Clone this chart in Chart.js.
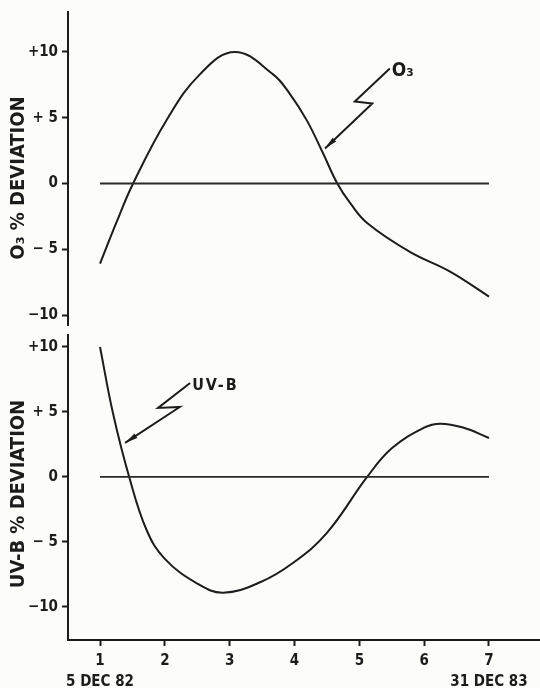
<!DOCTYPE html>
<html>
<head>
<meta charset="utf-8">
<script src="https://cdn.jsdelivr.net/npm/chart.js@4"></script>
<style>
  html, body { margin: 0; padding: 0; background: #fcfcf9; }
  #wrap { position: relative; width: 540px; height: 688px; }
  .panel { position: absolute; left: 0; width: 540px; }
</style>
</head>
<body>
<div id="wrap">
  <div class="panel" style="top:0;height:330px"><canvas id="o3Chart"></canvas></div>
  <div class="panel" style="top:330px;height:358px"><canvas id="uvbChart"></canvas></div>
</div>
<script>
// values (x = year index 1..7, y = % deviation)
const o3Days = [1.0, 1.25, 1.51, 2.03, 2.54, 3.08, 3.67, 3.93, 4.19, 4.44, 4.66, 4.86, 5.12, 5.78, 6.4, 7.0];
const o3Dev  = [-6.1, -3.0, 0, 4.85, 8.3, 10.0, 8.3, 6.8, 4.8, 2.3, 0, -1.5, -3.0, -5.2, -6.7, -8.6];

const uvbDays = [1.0, 1.2, 1.45, 1.72, 2.0, 2.5, 2.9, 3.47, 3.98, 4.5, 5.12, 5.5, 6.0, 6.25, 6.6, 7.0];
const uvbDev  = [10.0, 4.9, 0, -4.1, -6.3, -8.2, -8.9, -8.1, -6.6, -4.3, 0, 2.2, 3.8, 4.1, 3.8, 3.0];

const zeroDays = [1, 7];
const zeroDev = [0, 0];

const yTickValues = [-10, -5, 0, 5, 10];
const yTickLabels = ['\u221210', '\u2212 5', '0', '+ 5', '+10'];
const xTickValues = [1, 2, 3, 4, 5, 6, 7];
const xTickLabels = [['1', '5 DEC 82'], '2', '3', '4', '5', '6', ['7', '31 DEC 83']];

// pointer lines (data units), tip first
const o3Pointer = [[4.47, 2.66], [5.20, 6.08], [4.93, 6.24], [5.47, 8.75]];
const uvbPointer = [[1.386, 2.62], [2.23, 5.38], [1.895, 5.31], [2.39, 7.23]];

const INK = '#1c1c1c';
const FAMILY = "'DejaVu Sans Condensed', 'DejaVu Sans', sans-serif";
Chart.defaults.font.family = FAMILY;
Chart.defaults.color = INK;

const pairs = (xs, ys) => xs.map((v, i) => ({x: v, y: ys[i]}));

const pointers = {
  id: 'pointers',
  afterDatasetsDraw(chart, args, opts) {
    const {ctx, scales: {x, y}} = chart;
    const pts = opts.path.map(p => [x.getPixelForValue(p[0]), y.getPixelForValue(p[1])]);
    ctx.save();
    ctx.strokeStyle = INK;
    ctx.fillStyle = INK;
    ctx.lineWidth = 2;
    ctx.beginPath();
    pts.forEach((p, i) => i ? ctx.lineTo(p[0], p[1]) : ctx.moveTo(p[0], p[1]));
    ctx.stroke();
    // arrow head
    const [tx, ty] = pts[0];
    const a = Math.atan2(pts[1][1] - ty, pts[1][0] - tx);
    const len = 13, w = 2.6;
    ctx.beginPath();
    ctx.moveTo(tx, ty);
    ctx.lineTo(tx + len * Math.cos(a) - w * Math.sin(a), ty + len * Math.sin(a) + w * Math.cos(a));
    ctx.lineTo(tx + len * Math.cos(a) + w * Math.sin(a), ty + len * Math.sin(a) - w * Math.cos(a));
    ctx.closePath();
    ctx.fill();
    // series label at the tail
    const end = pts[pts.length - 1];
    ctx.font = opts.labelFont + ' ' + FAMILY;
    ctx.letterSpacing = opts.spacing || '0px';
    ctx.textAlign = 'left';
    ctx.textBaseline = 'middle';
    ctx.fillText(opts.label, end[0] + 2, end[1] + 3);
    ctx.letterSpacing = '0px';
    // rotated axis title
    ctx.translate(opts.titleX, opts.titleY);
    ctx.rotate(-Math.PI / 2);
    ctx.textAlign = 'center';
    ctx.font = 'bold 20px ' + FAMILY;
    ctx.fillText(opts.title, 0, 0);
    ctx.restore();
  }
};

function yScale(min, max) {
  return {
    min: min, max: max,
    afterFit: s => { s.width = 68; s.paddingTop = 0; s.paddingBottom = 0; },
    afterBuildTicks: s => { s.ticks = yTickValues.map(v => ({value: v})); },
    ticks: {
      padding: 4,
      font: {size: 15, weight: 'bold'},
      callback: v => yTickLabels[yTickValues.indexOf(v)]
    },
    grid: {drawOnChartArea: false, drawTicks: true, tickLength: 6, tickWidth: 2, tickColor: INK},
    border: {display: true, color: INK, width: 2}
  };
}

function xScale(show) {
  return {
    type: 'linear',
    min: 0.506, max: 7.787,
    display: show,
    afterFit: s => {
      s.paddingLeft = 0; s.paddingRight = 0;
      s.height = show ? 48 : 0;
    },
    afterBuildTicks: s => { s.ticks = xTickValues.map(v => ({value: v})); },
    ticks: {
      padding: 5,
      maxRotation: 0,
      autoSkip: false,
      font: {size: 15, weight: 'bold', lineHeight: 1.4},
      callback: v => xTickLabels[xTickValues.indexOf(v)]
    },
    grid: {drawOnChartArea: false, drawTicks: true, tickLength: 6, tickWidth: 2, tickColor: INK},
    border: {display: true, color: INK, width: 2}
  };
}

function curve(xs, ys) {
  return {
    data: pairs(xs, ys),
    borderColor: INK, borderWidth: 2,
    pointRadius: 0, tension: 0.4, fill: false
  };
}

function baseline() {
  return {
    data: pairs(zeroDays, zeroDev),
    borderColor: '#2a2a2a', borderWidth: 1.8,
    pointRadius: 0, fill: false
  };
}

function makeChart(id, xs, ys, yMin, yMax, showX, pad, annot) {
  return new Chart(document.getElementById(id), {
    type: 'line',
    data: {datasets: [baseline(), curve(xs, ys)]},
    options: {
      responsive: true,
      maintainAspectRatio: false,
      animation: false,
      layout: {padding: pad},
      plugins: {legend: {display: false}, tooltip: {enabled: false}, pointers: annot},
      scales: {x: xScale(showX), y: yScale(yMin, yMax)}
    },
    plugins: [pointers]
  });
}

makeChart('o3Chart', o3Days, o3Dev, -10.76, 13.04, false,
  {top: 12, bottom: 5, left: 0, right: 0},
  {path: o3Pointer, label: 'O\u2083', labelFont: 'bold 19px', title: 'O\u2083 % DEVIATION', titleX: 19, titleY: 178});

makeChart('uvbChart', uvbDays, uvbDev, -12.54, 10.92, true,
  {top: 5, bottom: 0, left: 0, right: 0},
  {path: uvbPointer, label: 'UV-B', labelFont: 'bold 16px', spacing: '2px', title: 'UV-B % DEVIATION', titleX: 19, titleY: 164});
</script>
</body>
</html>
